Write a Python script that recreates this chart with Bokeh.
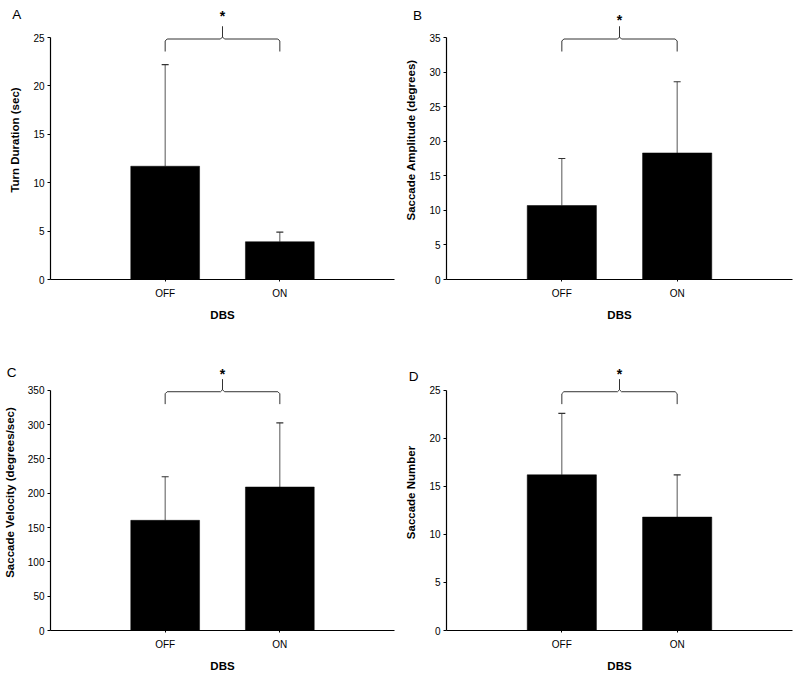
from bokeh.plotting import figure
from bokeh.layouts import gridplot
from bokeh.models import FixedTicker, Label, Whisker, ColumnDataSource, TeeHead
from bokeh.embed import file_html
from bokeh.resources import INLINE
from bokeh.core.properties import value

# ---------------- data ----------------
categories = ["OFF", "ON"]
x_label = "DBS"
panel_letters = ["A", "B", "C", "D"]
y_labels = ["Turn Duration (sec)", "Saccade Amplitude (degrees)",
            "Saccade Velocity (degrees/sec)", "Saccade Number"]
y_max = [25, 35, 350, 25]
y_step = [5, 5, 50, 5]

means_A = [11.7, 3.9]
err_A = [10.5, 1.0]
means_B = [10.7, 18.3]
err_B = [6.8, 10.3]
means_C = [160.5, 209.0]
err_C = [63.5, 93.5]
means_D = [16.2, 11.8]
err_D = [6.4, 4.4]
significance = ["*", "*", "*", "*"]

means = [means_A, means_B, means_C, means_D]
errs = [err_A, err_B, err_C, err_D]

# ---------------- layout / style ----------------
FONT = "Liberation Sans"
FIG_W, FIG_H = 400, 339
AXIS_PX = 242  # pixel length of 0..ymax
# the panel letter is a Label in a side panel (not clipped to the frame);
# in the top row it sits in the roomy "below" panel, in the bottom row in
# the "above" panel (which then takes ~13px, so ytop_px is reduced).
layout = [
    dict(left=40, right=6, bottom=60, ytop_px=37, star=21.5, letter=(-34, 23), side="below"),
    dict(left=46, right=8, bottom=60, ytop_px=37, star=17.5, letter=(-29, 22), side="below"),
    dict(left=42, right=4, bottom=48, ytop_px=36, star=16.5, letter=(-39, 18), side="above"),
    dict(left=45, right=8, bottom=48, ytop_px=36, star=16, letter=(-33, 14), side="above"),
]

xs = [i + 1 for i in range(len(categories))]


def make_panel(i):
    L = layout[i]
    ymax = y_max[i]
    u = ymax / AXIS_PX  # data units per pixel
    y_top = ymax + L["ytop_px"] * u
    p = figure(width=FIG_W, height=FIG_H, x_range=(0, 3), y_range=(0, y_top),
               output_backend="svg", toolbar_location=None, title=None,
               min_border_left=L["left"], min_border_right=L["right"],
               min_border_top=0, min_border_bottom=L["bottom"])
    p.outline_line_color = None
    p.grid.visible = False
    p.background_fill_color = "white"

    # bars
    src = ColumnDataSource(dict(x=xs, m=means[i],
                                up=[m + e for m, e in zip(means[i], errs[i])]))
    p.vbar(x="x", top="m", width=0.6, bottom=0, source=src,
           fill_color="black", line_color="black", line_width=0.5)
    w = Whisker(source=src, base="x", lower="m", upper="up", dimension="height",
                line_color="#555555", line_width=1,
                lower_head=None,
                upper_head=TeeHead(size=7, line_color="#333333", line_width=1.2))
    p.add_layout(w)

    # significance brace
    x1, x2 = xs[0], xs[1]
    xc = (x1 + x2) / 2
    xu = 3 / 346.0  # data units per x pixel (approx frame width)
    yh = ymax - 1.5 * u
    ylo = ymax - 14 * u
    ypk = ymax + 11 * u
    bx = [x1, x1, x1 + 2 * xu, xc - 2 * xu, xc, xc, xc, xc + 2 * xu, x2 - 2 * xu, x2, x2]
    by = [ylo, yh - 2 * u, yh, yh, yh + 2 * u, ypk, yh + 2 * u, yh, yh, yh - 2 * u, ylo]
    p.line(bx, by, line_color="#333333", line_width=1)
    p.text(x=[xc], y=[ymax + L["star"] * u], text=[significance[i]],
           text_font=value(FONT), text_font_style="bold", text_font_size="14px",
           text_align="center", text_baseline="middle", text_color="black")

    # axes
    p.xaxis.ticker = FixedTicker(ticks=xs)
    p.xaxis.major_label_overrides = {x: c for x, c in zip(xs, categories)}
    p.xaxis.axis_label = x_label
    p.yaxis.axis_label = y_labels[i]
    p.yaxis.ticker = FixedTicker(ticks=list(range(0, ymax + 1, y_step[i])))
    p.yaxis.bounds = (0, ymax)
    for ax in (p.xaxis[0], p.yaxis[0]):
        ax.axis_line_color = "black"
        ax.axis_line_width = 1.2
        ax.major_tick_line_color = "black"
        ax.major_tick_in = 0
        ax.minor_tick_line_color = None
        ax.major_label_text_font = FONT
        ax.major_label_text_font_size = "10px"
        ax.major_label_text_color = "black"
        ax.axis_label_text_font = FONT
        ax.axis_label_text_font_style = "bold"
        ax.axis_label_text_font_size = "11.5px"
        ax.axis_label_text_color = "black"
    p.xaxis.major_tick_out = 2
    p.xaxis.major_label_standoff = 6
    p.xaxis.axis_label_standoff = 7
    p.yaxis.major_tick_out = 3
    p.yaxis.major_label_standoff = 3
    p.yaxis.axis_label_standoff = 9

    # panel letter
    lx, ly = L["letter"]
    p.add_layout(Label(x=lx * xu, y=ymax + ly * u, x_units="data", y_units="data",
                       text=panel_letters[i], text_font=FONT, text_font_size="13.5px",
                       text_align="center", text_baseline="middle", text_color="black"),
                 L["side"])
    return p


panels = [make_panel(i) for i in range(4)]
grid = gridplot([[panels[0], panels[1]], [panels[2], panels[3]]], toolbar_location=None)

open("out.html", "w").write(file_html(grid, INLINE))
